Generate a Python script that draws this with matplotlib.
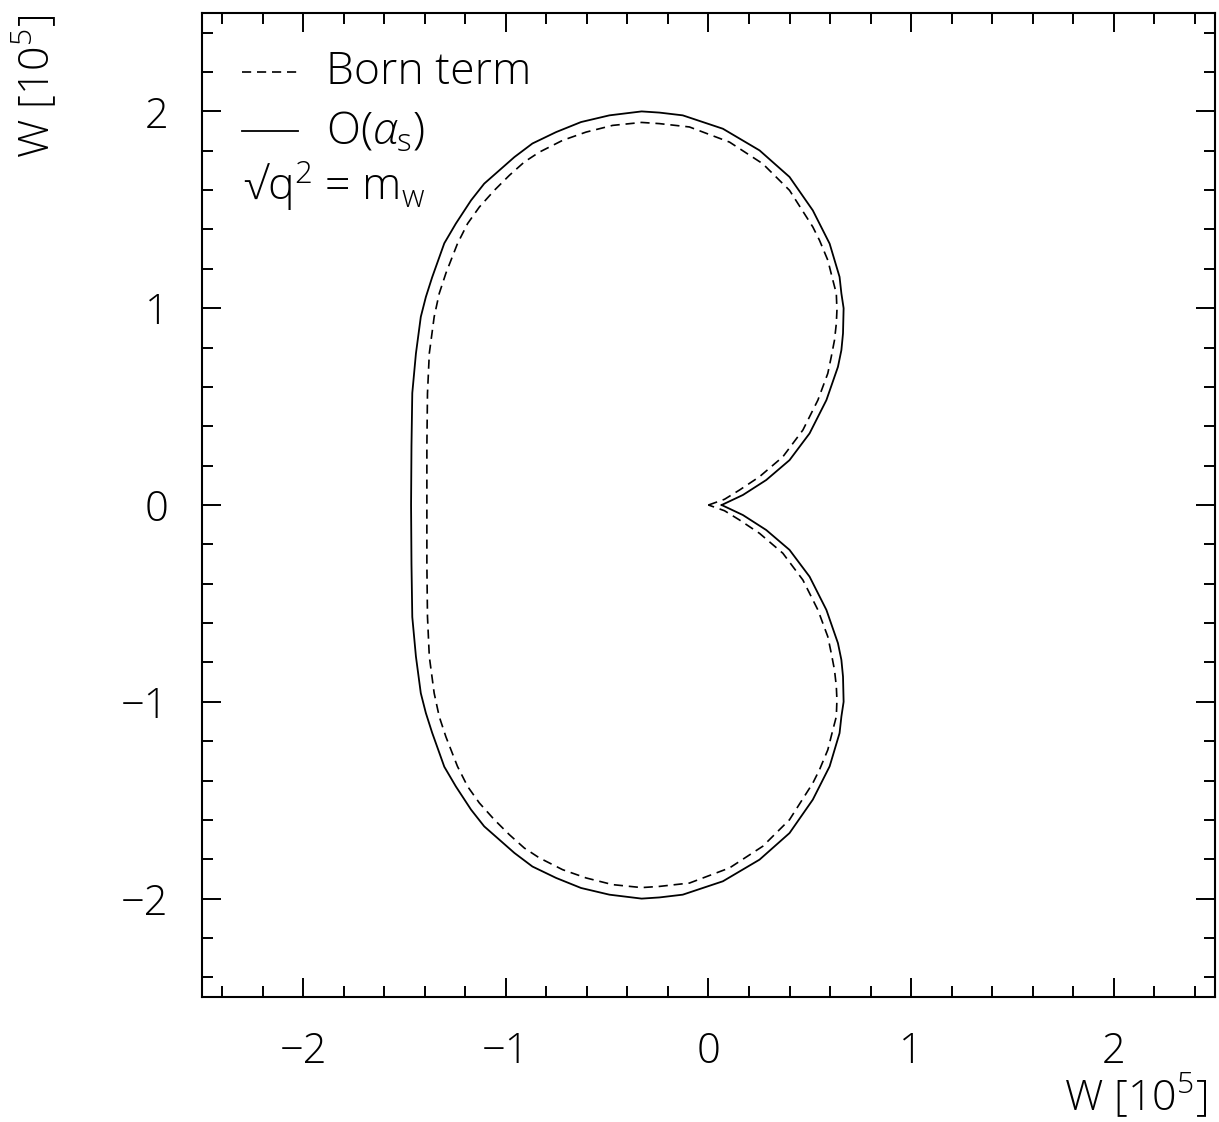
import numpy as np
import matplotlib
matplotlib.use("Agg")
import matplotlib.pyplot as plt
from matplotlib.ticker import MultipleLocator

plt.rcParams["font.family"] = ["Open Sans", "DejaVu Sans"]
plt.rcParams["font.weight"] = "light"
plt.rcParams["mathtext.fontset"] = "custom"
plt.rcParams["mathtext.rm"] = "Open Sans:light"
plt.rcParams["mathtext.it"] = "Open Sans:italic:light"
plt.rcParams["mathtext.fallback"] = "stixsans"

# upper half of the polar distribution, units of 1e5, from the cusp round to the left edge
oas_x = [0.065, 0.17, 0.285, 0.40, 0.499, 0.582, 0.639, 0.656, 0.664, 0.667,
         0.656, 0.647, 0.598, 0.515, 0.40, 0.252, 0.071, -0.127, -0.242,
         -0.33, -0.489, -0.629, -0.752, -0.869, -0.958, -1.033, -1.107,
         -1.172, -1.247, -1.304, -1.364, -1.395, -1.42, -1.444, -1.462,
         -1.466, -1.468]
oas_y = [0.0, 0.051, 0.127, 0.228, 0.364, 0.533, 0.702, 0.787, 0.872, 1.0,
         1.075, 1.159, 1.328, 1.497, 1.667, 1.802, 1.912, 1.980, 1.994,
         2.0, 1.980, 1.946, 1.895, 1.837, 1.768, 1.70, 1.633,
         1.548, 1.430, 1.33, 1.157, 1.057, 0.956, 0.770, 0.569,
         0.3, 0.0]

born_x = [0.0, 0.079, 0.153, 0.252, 0.367, 0.466, 0.54, 0.589, 0.606, 0.622,
          0.631, 0.634, 0.631, 0.614, 0.589, 0.548, 0.515, 0.40, 0.268, 0.104,
          -0.094, -0.242, -0.33, -0.473, -0.604, -0.72, -0.835, -0.909,
          -0.983, -1.057, -1.131, -1.189, -1.239, -1.296, -1.329, -1.354,
          -1.378, -1.387, -1.39, -1.39]
born_y = [0.0, 0.029, 0.076, 0.144, 0.245, 0.381, 0.533, 0.669, 0.753, 0.838,
          0.922, 0.99, 1.075, 1.142, 1.244, 1.345, 1.413, 1.599, 1.734, 1.844,
          1.921, 1.938, 1.944, 1.929, 1.895, 1.853, 1.793, 1.743,
          1.675, 1.599, 1.514, 1.430, 1.328, 1.178, 1.075, 0.956,
          0.770, 0.567, 0.3, 0.0]


def closed(xs, ys):
    # the distribution is symmetric in y: mirror the upper half
    xs, ys = np.asarray(xs), np.asarray(ys)
    return (np.concatenate([xs, xs[::-1][1:]]),
            np.concatenate([ys, -ys[::-1][1:]]))


fig = plt.figure(figsize=(12.19, 11.22), dpi=100)
ax = fig.add_axes([0.1657, 0.1114, 0.8310, 0.8770])

bx, by = closed(born_x, born_y)
ox, oy = closed(oas_x, oas_y)
ax.plot(bx, by, color="black", lw=1.2, ls=(0, (5.5, 3.5)))
ax.plot(ox, oy, color="black", lw=1.3)

ax.set_xlim(-2.5, 2.5)
ax.set_ylim(-2.5, 2.5)
for a in (ax.xaxis, ax.yaxis):
    a.set_major_locator(MultipleLocator(1))
    a.set_minor_locator(MultipleLocator(0.2))
ax.tick_params(which="both", direction="in", top=True, right=True,
               width=1.4, labelsize=30, pad=24)
ax.tick_params(which="major", length=14)
ax.tick_params(which="minor", length=8)
for s in ax.spines.values():
    s.set_linewidth(1.5)

# legend drawn by hand
ax.plot([0.0395, 0.0948], [0.940, 0.940], transform=ax.transAxes,
        color="black", lw=1.2, ls=(0, (5.5, 3.5)))
ax.plot([0.0395, 0.0948], [0.880, 0.880], transform=ax.transAxes,
        color="black", lw=1.3)
ax.text(0.1224, 0.928, "Born term", transform=ax.transAxes, fontsize=32,
        va="baseline")
ax.text(0.1224, 0.866, r"O($\alpha_{\rm s}$)", transform=ax.transAxes,
        fontsize=32, va="baseline")
ax.text(0.040, 0.810, "\u221a" + r"q$^2$ = m$_{\rm w}$", transform=ax.transAxes,
        fontsize=32, va="baseline")

fig.text(1207 / 1219, 1 - 1110 / 1122, r"W [10$^5$]", fontsize=31,
         ha="right", va="baseline")
fig.text(35 / 1219, 1 - 15 / 1122, r"W [10$^5$]", fontsize=31,
         rotation=90, ha="center", va="top")

fig.savefig("out.png", dpi=100)
